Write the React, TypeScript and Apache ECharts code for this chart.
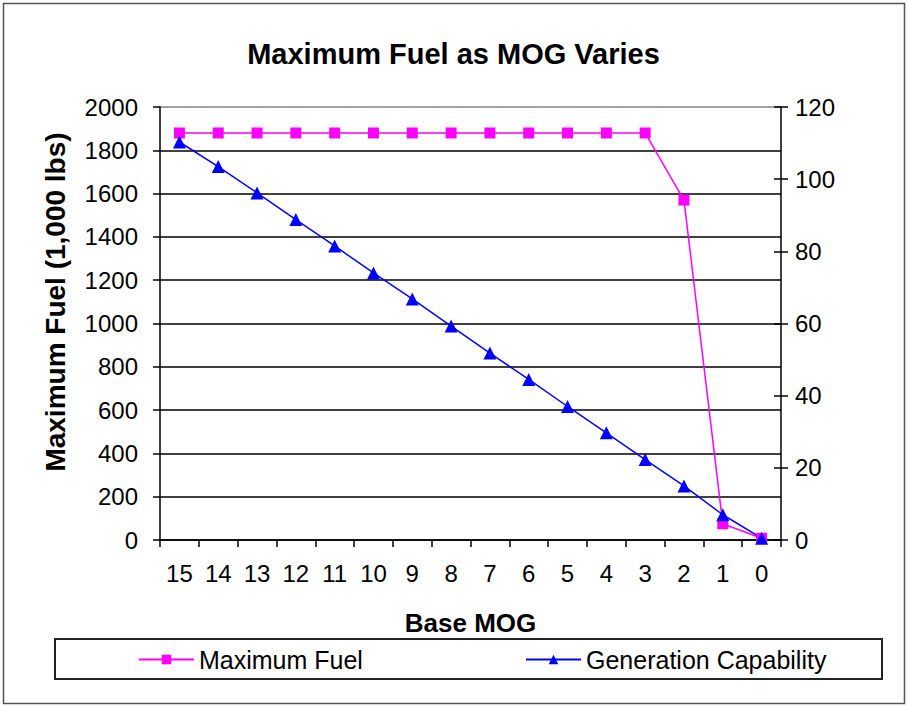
import React, { useEffect, useRef } from "react";
import * as echarts from "echarts";

const categories = ["15", "14", "13", "12", "11", "10", "9", "8", "7", "6", "5", "4", "3", "2", "1", "0"];
const maximumFuel = [1880, 1880, 1880, 1880, 1880, 1880, 1880, 1880, 1880, 1880, 1880, 1880, 1880, 1570, 75, 8];
const generationCapability = [110.3, 103.5, 96.2, 88.8, 81.5, 74, 66.8, 59.3, 51.8, 44.5, 37, 29.7, 22.3, 15, 7, 0.5];

const FONT = "Liberation Sans, Arial, sans-serif";

export default function App() {
  const ref = useRef<HTMLDivElement>(null);
  useEffect(() => {
    if (!ref.current) return;
    const chart = echarts.init(ref.current, null, { renderer: "svg" });
    const leftSplitColors = ["#000", "#000", "#000", "#000", "#000", "#000", "#000", "#000", "#000", "#000", "#808080"];
    chart.setOption({
      animation: false,
      backgroundColor: "#fff",
      textStyle: { fontFamily: FONT, color: "#000" },
      title: {
        text: "Maximum Fuel as MOG Varies",
        left: "center",
        top: 34,
        textStyle: { fontFamily: FONT, fontWeight: "bold", fontSize: 29, color: "#000" },
      },
      grid: { left: 160, right: 126, top: 107, bottom: 166, show: false },
      legend: [
        {
          data: ["Maximum Fuel"],
          left: 133,
          top: 642,
          itemWidth: 55,
          itemHeight: 12,
          itemGap: 6,
          textStyle: { fontFamily: FONT, fontSize: 25, color: "#000" },
        },
        {
          data: ["Generation Capability"],
          left: 520,
          top: 642,
          itemWidth: 55,
          itemHeight: 12,
          itemGap: 6,
          textStyle: { fontFamily: FONT, fontSize: 25, color: "#000" },
        },
      ],
      xAxis: {
        type: "category",
        data: categories,
        boundaryGap: true,
        name: "Base MOG",
        nameLocation: "middle",
        nameGap: 70,
        nameTextStyle: { fontFamily: FONT, fontWeight: "bold", fontSize: 26, color: "#000" },
        axisLine: { lineStyle: { color: "#000", width: 1.5 } },
        axisTick: { show: true, alignWithLabel: false, length: 7, lineStyle: { color: "#000", width: 1.5 } },
        axisLabel: { fontFamily: FONT, fontSize: 24, color: "#000", margin: 21, interval: 0 },
      },
      yAxis: [
        {
          type: "value",
          min: 0,
          max: 2000,
          interval: 200,
          position: "left",
          axisLine: { show: true, lineStyle: { color: "#000", width: 1.5 } },
          axisTick: { show: true, length: 7, lineStyle: { color: "#000", width: 1.5 } },
          axisLabel: { fontFamily: FONT, fontSize: 24, color: "#000", margin: 22, formatter: (v: number) => String(v) },
          splitLine: { show: true, lineStyle: { color: leftSplitColors, width: 1.5 } },
        },
        {
          type: "value",
          min: 0,
          max: 120,
          interval: 20,
          position: "right",
          axisLine: { show: true, lineStyle: { color: "#000", width: 1.5 } },
          axisTick: { show: true, length: 7, lineStyle: { color: "#000", width: 1.5 } },
          axisLabel: { fontFamily: FONT, fontSize: 24, color: "#000", margin: 14, formatter: (v: number) => String(v) },
          splitLine: { show: false },
        },
        {
          type: "value",
          min: 0,
          max: 120,
          interval: 20,
          position: "right",
          axisLine: { show: false },
          axisTick: { show: true, inside: true, length: 7, lineStyle: { color: "#000", width: 1.5 } },
          axisLabel: { show: false },
          splitLine: { show: false },
        },
      ],
      series: [
        {
          name: "Maximum Fuel",
          type: "line",
          data: maximumFuel,
          yAxisIndex: 0,
          symbol: "rect",
          symbolSize: 11,
          lineStyle: { color: "#FF00FF", width: 1.5 },
          itemStyle: { color: "#FF00FF" },
        },
        {
          name: "Generation Capability",
          type: "line",
          data: generationCapability,
          yAxisIndex: 1,
          symbol: "triangle",
          symbolSize: 13,
          lineStyle: { color: "#0000FF", width: 1.5 },
          itemStyle: { color: "#0000FF" },
        },
      ],
      graphic: [
        {
          type: "rect",
          shape: { x: 3.5, y: 3.5, width: 901, height: 700 },
          style: { fill: "none", stroke: "#555", lineWidth: 1.5 },
          silent: true,
        },
        {
          type: "rect",
          shape: { x: 55, y: 639, width: 827, height: 40 },
          style: { fill: "none", stroke: "#222", lineWidth: 2 },
          silent: true,
        },
        {
          type: "text",
          x: 55,
          y: 302,
          rotation: Math.PI / 2,
          style: {
            text: "Maximum Fuel (1,000 lbs)",
            fontFamily: FONT,
            fontWeight: "bold",
            fontSize: 28,
            fill: "#000",
            align: "center",
            verticalAlign: "middle",
          },
          silent: true,
        },
      ],
    });
    return () => chart.dispose();
  }, []);
  return <div ref={ref} style={{ width: 907, height: 706, position: "absolute", left: 0, top: 0 }} />;
}
